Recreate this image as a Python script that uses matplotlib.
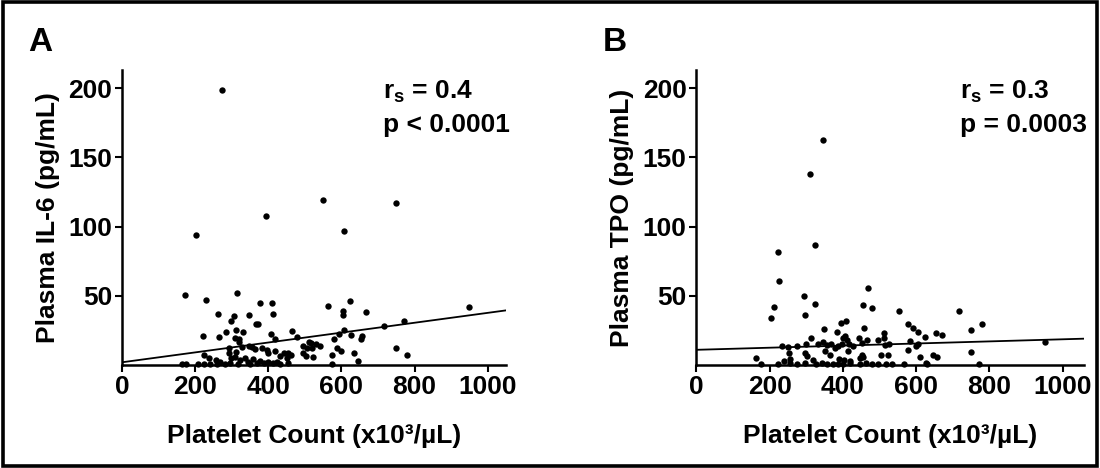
import matplotlib
matplotlib.use("Agg")
import matplotlib.pyplot as plt
from matplotlib.patches import Rectangle

plt.rcParams['font.family'] = ['Liberation Sans', 'DejaVu Sans']
plt.rcParams['font.weight'] = 'bold'
plt.rcParams['mathtext.fontset'] = 'custom'
plt.rcParams['mathtext.rm'] = 'Liberation Sans:bold'
plt.rcParams['mathtext.bf'] = 'Liberation Sans:bold'
plt.rcParams['mathtext.it'] = 'Liberation Sans:bold'

# ---- Panel A data: platelet count vs IL-6 ----
il6_platelets = [272, 202, 394, 550, 750, 608, 950, 173, 230, 315, 378, 411, 262, 305, 298,
                 346, 367, 373, 413, 564, 605, 605, 622, 667, 715, 772, 222, 266, 283, 312,
                 330, 309, 320, 321, 407, 417, 466, 478, 607, 592, 626, 655, 653, 748, 778,
                 635, 645, 573, 575, 589, 600, 580, 494, 510, 517, 529, 540, 506, 520, 494,
                 504, 521, 346, 355, 364, 292, 293, 312, 329, 382, 396, 400, 419, 433, 444,
                 455, 462, 451, 224, 237, 256, 268, 224, 176, 163, 208, 281, 298, 309, 323,
                 336, 344, 357, 368, 378, 387, 400, 414, 425, 295, 240, 259, 318, 350, 432,
                 455]
il6_values = [199, 94, 108, 119, 117, 97, 42, 50.5, 47, 52, 45, 45, 37, 35.5, 32,
              36.5, 30, 30, 37, 43, 39, 36, 46, 38, 28.5, 32, 21, 20, 24, 25,
              24, 19.5, 19, 16.5, 22.5, 18.6, 24.6, 20, 25, 22.5, 22, 21, 19, 12, 7,
              9, 3, 1, 7, 12, 10, 19, 14, 17, 16, 15.5, 14, 12, 12, 8.5,
              6.5, 6, 14, 13, 11.4, 12, 8.5, 9.7, 13, 12, 11, 8.5, 10, 6.5, 8.5,
              9, 7, 5, 7, 5, 4, 2.5, 1, 1, 0.5, 0.5, 0.7, 5, 5.5, 3.6,
              5.3, 2.4, 4.3, 1.7, 2.9, 1.2, 2.4, 1.2, 2.2, 1.2, 0.7, 0.7, 0.7, 0.7, 0.7,
              1.2]
il6_fit = (2.0, 0.0357)  # intercept, slope
il6_stats = ["r$_{\\mathbf{s}}$ = 0.4", "p < 0.0001"]

# ---- Panel B data: platelet count vs TPO ----
tpo_platelets = [345, 310, 324, 224, 227, 469, 294, 211, 324, 203, 296, 454, 479, 552, 717,
                 780, 751, 750, 773, 951, 577, 591, 606, 624, 655, 670, 646, 658, 610, 626,
                 631, 606, 601, 577, 583, 513, 513, 497, 526, 514, 505, 523, 535, 567, 459,
                 443, 467, 453, 453, 456, 448, 462, 481, 394, 409, 383, 407, 401, 412, 417,
                 427, 397, 414, 378, 388, 367, 358, 333, 348, 345, 312, 300, 274, 251, 233,
                 252, 256, 240, 297, 303, 319, 350, 365, 390, 402, 419, 163, 177, 224, 256,
                 274, 297, 328, 342, 356, 374, 387, 401, 419, 446, 496, 519]
tpo_values = [162.5, 138, 87, 82, 60.5, 56, 50, 42, 44, 34, 36, 43.5, 41, 39, 39,
              30, 25, 9.6, 0.5, 17, 30, 27, 24, 20, 23.4, 22, 7.4, 5.5, 5.5, 1.7,
              0.5, 15.5, 13.6, 11, 17.4, 23, 19.4, 18, 15, 14.3, 7, 7.4, 0.5, 0.5, 27,
              19.6, 18, 16, 7.6, 5.5, 4.8, 1.7, 0.5, 30.6, 31.5, 23.7, 21, 19.6, 18, 15.5,
              13.9, 15.3, 10.5, 12, 13.6, 15.5, 14.8, 15.5, 26, 16.7, 19.6, 15.5, 14, 12.7, 14,
              8.4, 4.3, 2.9, 8.4, 6.5, 4, 10, 7.4, 4.3, 3.6, 2.9, 5.3, 0.5, 0.5, 1.2,
              0.5, 1.2, 0.5, 1.7, 0.5, 0.5, 0.5, 0.5, 1.2, 0.5, 0.5, 0.5]
tpo_fit = (11.0, 0.0076)
tpo_stats = ["r$_{\\mathbf{s}}$ = 0.3", "p = 0.0003"]

x_ticks = [0, 200, 400, 600, 800, 1000]
y_ticks = [50, 100, 150, 200]
x_label = "Platelet Count (x10³/µL)"

FS = 19

fig = plt.figure(figsize=(11, 4.68), dpi=100)
fig.patches.append(Rectangle((0.003, 0.004), 0.994, 0.992, transform=fig.transFigure,
                             fill=False, edgecolor='black', linewidth=2.6))

panels = [
    ([0.111, 0.220, 0.349, 0.630], il6_platelets, il6_values, il6_fit, il6_stats,
     "Plasma IL-6 (pg/mL)", "A", 1050),
    ([0.633, 0.220, 0.352, 0.630], tpo_platelets, tpo_values, tpo_fit, tpo_stats,
     "Plasma TPO (pg/mL)", "B", 1057),
]

for rect, xs, ys, fit, stats, ylab, letter, xmax in panels:
    ax = fig.add_axes(rect)
    ax.scatter(xs, ys, s=21, color='black', zorder=3, clip_on=False, linewidths=0)
    fx = [0, xmax]
    ax.plot(fx, [fit[0] + fit[1] * v for v in fx], color='black', linewidth=1.3)
    ax.set_xlim(0, xmax)
    ax.set_ylim(0, 213)
    ax.set_xticks(x_ticks)
    ax.set_yticks(y_ticks)
    for s in ['top', 'right']:
        ax.spines[s].set_visible(False)
    for s in ['left', 'bottom']:
        ax.spines[s].set_linewidth(1.8)
    ax.tick_params(direction='out', length=5, width=1.5, labelsize=FS, pad=2)
    for lbl in ax.get_xticklabels() + ax.get_yticklabels():
        lbl.set_fontweight('bold')
    ax.set_xlabel(x_label, fontsize=FS, fontweight='bold', labelpad=18)
    ax.set_ylabel(ylab, fontsize=FS, fontweight='bold', labelpad=6)
    ax.text(0.68, 0.925, stats[0], transform=ax.transAxes, fontsize=FS,
            fontweight='bold', va='center', ha='left')
    ax.text(0.68, 0.815, stats[1], transform=ax.transAxes, fontsize=FS,
            fontweight='bold', va='center', ha='left')
    lx = rect[0] - 0.085
    fig.text(lx, 0.91, letter, fontsize=24, fontweight='bold', va='center', ha='left')

fig.savefig("out.png", dpi=100)
